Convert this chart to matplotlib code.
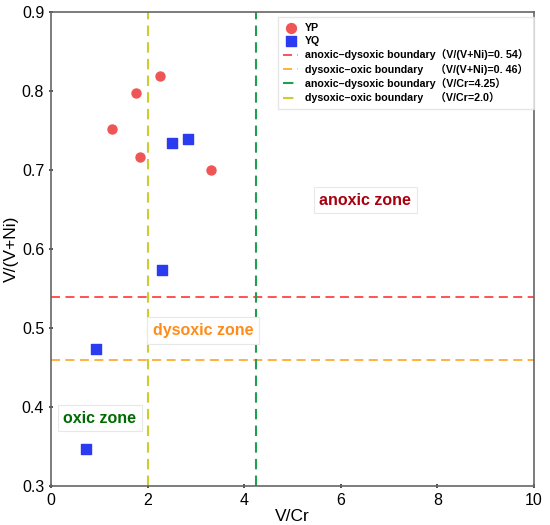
import matplotlib
import numpy as np
import matplotlib.pyplot as plt
matplotlib.use("Agg")

plt.rcParams['font.family'] = ['Liberation Sans', 'Noto Sans CJK SC', 'DejaVu Sans']

# dane
yp_x = [1.26, 1.75, 2.25, 1.85, 3.30]
yp_y = [0.752, 0.798, 0.819, 0.716, 0.700]
yq_x = [2.50, 2.84, 2.30, 0.92, 0.73]
yq_y = [0.734, 0.739, 0.573, 0.474, 0.347]

granica_ni = [0.54, 0.46]
granica_cr = [4.25, 2.0]

etykiety = ["anoxic–dysoxic boundary（V/(V+Ni)=0. 54）",
            "dysoxic–oxic boundary    （V/(V+Ni)=0. 46）",
            "anoxic–dysoxic boundary（V/Cr=4.25）",
            "dysoxic–oxic boundary    （V/Cr=2.0）"]

fig = plt.figure(figsize=(5.5, 5.25), dpi=100)
ax = fig.add_axes([0.093, 0.074, 0.878, 0.903])

ax.scatter(yp_x, yp_y, s=42, color="#f05555", marker="o", label="YP", zorder=3)
ax.scatter(yq_x, yq_y, s=42, color="#2b3cf0", marker="s", label="YQ", zorder=3)

ax.axhline(granica_ni[0], color="#ff4545", ls=(0, (5, 3)), lw=1.3, label=etykiety[0])
ax.axhline(granica_ni[1], color="#ffaa33", ls=(0, (5, 3)), lw=1.3, label=etykiety[1])
ax.axvline(granica_cr[0], color="#1fa050", ls=(0, (5, 3)), lw=1.5, label=etykiety[2])
ax.axvline(granica_cr[1], color="#cccc33", ls=(0, (5, 3)), lw=1.5, label=etykiety[3])

ramka = dict(boxstyle="square,pad=0.35", fc="white", ec="#e8e8e8", lw=0.8)
ax.text(6.5, 0.662, "anoxic zone", color="#a8000f", fontsize=11.5, fontweight="bold",
        ha="center", va="center", bbox=ramka)
ax.text(3.15, 0.497, "dysoxic zone", color="#ff8c1a", fontsize=11.5, fontweight="bold",
        ha="center", va="center", bbox=ramka)
ax.text(1.01, 0.386, "oxic zone", color="#006b00", fontsize=11.5, fontweight="bold",
        ha="center", va="center", bbox=ramka)

ax.set_xlim(0, 10)
ax.set_ylim(0.3, 0.9)
ax.set_xticks([0, 2, 4, 6, 8, 10])
ax.set_yticks([0.3, 0.4, 0.5, 0.6, 0.7, 0.8, 0.9])
ax.set_yticklabels(["0.3", "0.4", "0.5", "0.6", "0.7", "0.8", "0.9"])
ax.tick_params(labelsize=11.5, color="#333333", length=3, direction="inout", width=1.2)
ax.set_xlabel("V/Cr", fontsize=12.5, labelpad=1)
ax.set_ylabel("V/(V+Ni)", fontsize=12.5, labelpad=2)
for s in ax.spines.values():
    s.set_color("#666666")
    s.set_linewidth(1.2)

leg = ax.legend(loc="upper right", bbox_to_anchor=(1.0, 0.99),
                prop={"weight": "bold", "size": 7.7}, frameon=True, fancybox=False,
                edgecolor="#e0e0e0", handlelength=1.4, handletextpad=0.6,
                labelspacing=0.3, borderpad=0.5, borderaxespad=0.05, markerscale=1.1)

plt.savefig("out.png", dpi=100)
